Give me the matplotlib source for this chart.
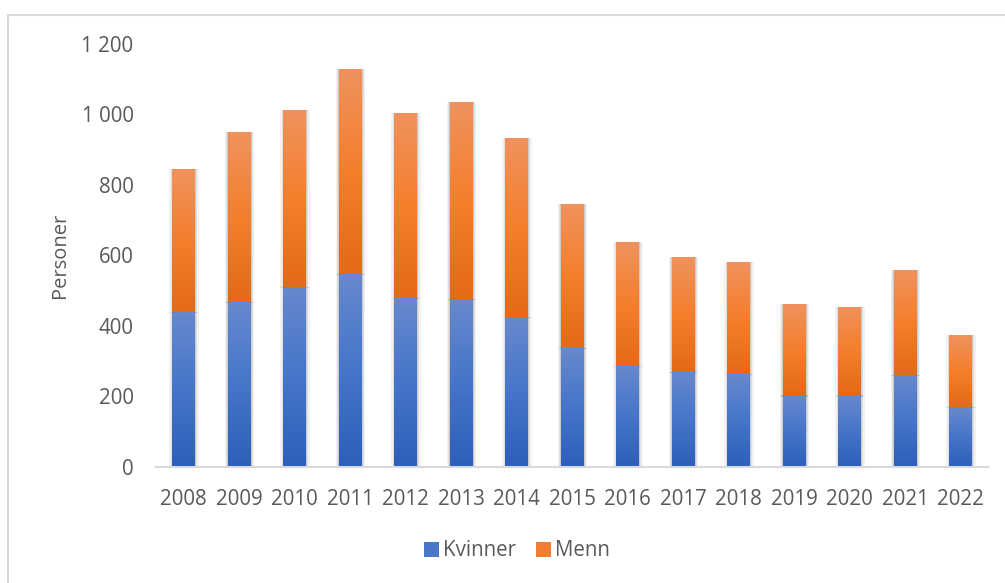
import numpy as np
import matplotlib
matplotlib.use("Agg")
import matplotlib.pyplot as plt
from matplotlib.colors import LinearSegmentedColormap
from matplotlib.patches import Rectangle, Patch
from matplotlib.ticker import FuncFormatter

years = ["2008", "2009", "2010", "2011", "2012", "2013", "2014", "2015",
         "2016", "2017", "2018", "2019", "2020", "2021", "2022"]
kvinner = [440, 469, 511, 548, 480, 477, 426, 338, 287, 270, 265, 204, 204, 261, 170]
menn = [405, 481, 502, 581, 524, 558, 507, 408, 351, 326, 316, 258, 250, 298, 204]

plt.rcParams['font.family'] = ['Open Sans', 'DejaVu Sans']
txt = '#595959'

# Excel style vertical gradients (bottom -> top)
blue_cm = LinearSegmentedColormap.from_list('b', ['#2d5fba', '#4675c9', '#6789cd'])
orange_cm = LinearSegmentedColormap.from_list('o', ['#e36a16', '#f47f2c', '#f0925e'])

fig = plt.figure(figsize=(10.05, 5.83), dpi=100, facecolor='white')
ax = fig.add_axes([155.75 / 1005, 1 - 467 / 583, (988.25 - 155.75) / 1005, (467 - 44) / 583])

x = np.arange(len(years))
w = 0.41
grad = np.linspace(0, 1, 256).reshape(-1, 1)


def grad_bars(bottoms, heights, cmap):
    for xi, b, h in zip(x, bottoms, heights):
        # soft shadow
        for k, a in [(0.06, 0.05), (0.035, 0.07), (0.015, 0.09)]:
            ax.add_patch(Rectangle((xi - w / 2 - k + 0.01, b - 4), w + 2 * k, h + 4,
                                   facecolor='#000000', alpha=a, lw=0, zorder=1))
        r = Rectangle((xi - w / 2, b), w, h, facecolor='none', lw=0, zorder=3)
        ax.add_patch(r)
        im = ax.imshow(grad, extent=[xi - w / 2, xi + w / 2, b, b + h], origin='lower',
                       cmap=cmap, aspect='auto', zorder=3, interpolation='bilinear')
        im.set_clip_path(r)


grad_bars([0] * len(x), kvinner, blue_cm)
grad_bars(kvinner, menn, orange_cm)

ax.set_xlim(-0.5, len(years) - 0.5)
ax.set_ylim(0, 1200)
ax.set_yticks(range(0, 1201, 200))
ax.yaxis.set_major_formatter(FuncFormatter(lambda v, p: f"{int(v):,}".replace(",", " ")))
ax.set_xticks(x)
ax.set_xticklabels(years)
ax.tick_params(axis='both', length=0, labelsize=14.8, colors=txt)
ax.tick_params(axis='y', pad=16)
ax.tick_params(axis='x', pad=16)
for s in ['top', 'right', 'left']:
    ax.spines[s].set_visible(False)
ax.spines['bottom'].set_color('#d9d9d9')
ax.spines['bottom'].set_linewidth(1.5)
ax.spines['bottom'].set_zorder(4)

fig.text(60 / 1005, 1 - 255 / 583, 'Personer', rotation=90, ha='center', va='center',
         fontsize=14.5, color=txt)

handles = [Patch(facecolor='#4a77c8', label='Kvinner'),
           Patch(facecolor='#f07f32', label='Menn')]
fig.legend(handles=handles, loc='center', bbox_to_anchor=(517 / 1005, 1 - 551 / 583), ncol=2,
           frameon=False, fontsize=14.8, labelcolor=txt, handlelength=0.7,
           handleheight=0.7, handletextpad=0.2, columnspacing=1.0)

# chart area border
fig.add_artist(Rectangle((8 / 1005, -0.05), 1.1, 1 - 14.5 / 583 + 0.05,
                         transform=fig.transFigure, facecolor='none',
                         edgecolor='#d9d9d9', lw=1.5))

fig.savefig('out.png', dpi=100, facecolor='white')
